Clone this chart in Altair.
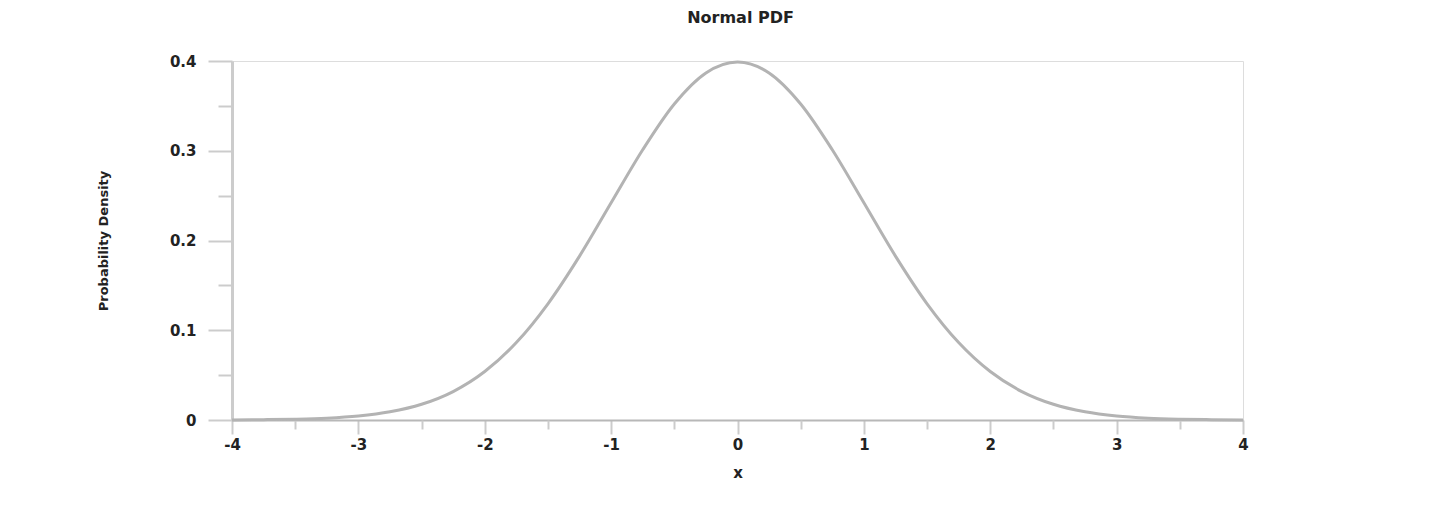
import altair as alt
import pandas as pd

# Values
x_vals = [-4.0, -3.75, -3.5, -3.25, -3.0, -2.75, -2.5, -2.25, -2.0, -1.75, -1.5, -1.25, -1.0,
          -0.75, -0.5, -0.25, 0.0, 0.25, 0.5, 0.75, 1.0, 1.25, 1.5, 1.75, 2.0, 2.25, 2.5,
          2.75, 3.0, 3.25, 3.5, 3.75, 4.0]
pdf_vals = [0.0001, 0.0004, 0.0009, 0.0020, 0.0044, 0.0091, 0.0175, 0.0317, 0.0540, 0.0863,
            0.1295, 0.1826, 0.2420, 0.3011, 0.3521, 0.3867, 0.3989, 0.3867, 0.3521, 0.3011,
            0.2420, 0.1826, 0.1295, 0.0863, 0.0540, 0.0317, 0.0175, 0.0091, 0.0044, 0.0020,
            0.0009, 0.0004, 0.0001]
x_ticks = [-4, -3, -2, -1, 0, 1, 2, 3, 4]
x_minor = [-3.5, -2.5, -1.5, -0.5, 0.5, 1.5, 2.5, 3.5]
y_ticks = [0, 0.1, 0.2, 0.3, 0.4]
y_minor = [0.05, 0.15, 0.25, 0.35]
title_text = ["Normal PDF"]

df = pd.DataFrame({"x": x_vals, "pdf": pdf_vals})

W, H = 1011, 359
FONT = "DejaVu Sans"
TXT = "#222222"
GRAY = "#cccccc"

xscale = alt.Scale(domain=[-4, 4], nice=False, zero=False)
yscale = alt.Scale(domain=[0, 0.4], nice=False)

main = alt.Chart(df).mark_line(color="#b3b3b3", strokeWidth=3, interpolate="monotone").encode(
    x=alt.X("x:Q", scale=xscale,
            axis=alt.Axis(values=x_ticks, title="x", labelFont=FONT, labelFontSize=15,
                          labelFontWeight="bold", labelColor=TXT, tickSize=14, tickWidth=2,
                          tickColor=GRAY, domainColor="#b8b8b8", domainWidth=2, labelPadding=3,
                          grid=False, titleFont=FONT, titleFontSize=15, titleFontWeight="bold",
                          titleColor=TXT, titleX=W / 2, titleY=52, titleBaseline="middle",
                          titleAlign="center", labelFlush=False,
                          labelExpr="replace(datum.label, '\u2212', '-')")),
    y=alt.Y("pdf:Q", scale=yscale,
            axis=alt.Axis(values=y_ticks, title="Probability Density", labelFont=FONT,
                          labelFontSize=15, labelFontWeight="bold", labelColor=TXT,
                          tickSize=24, tickWidth=2, tickColor=GRAY, domainColor=GRAY,
                          domainWidth=3, labelPadding=12, grid=False, titleFont=FONT,
                          titleFontSize=13, titleFontWeight="bold", titleColor=TXT,
                          titleX=-129, titleY=H / 2, titleBaseline="middle",
                          titleAlign="center", labelFlush=False,
                          format="~g")),
)

minor = alt.Chart(df).mark_line(opacity=0).encode(
    x=alt.X("x:Q", scale=xscale,
            axis=alt.Axis(values=x_minor, labels=False, title=None, tickSize=9, tickWidth=2,
                          tickColor=GRAY, domain=False, grid=False, orient="bottom")),
    y=alt.Y("pdf:Q", scale=yscale,
            axis=alt.Axis(values=y_minor, labels=False, title=None, tickSize=14, tickWidth=2,
                          tickColor=GRAY, domain=False, grid=False, orient="left")),
)

title = alt.Chart(pd.DataFrame({"t": title_text})).mark_text(
    font=FONT, fontSize=16, fontWeight="bold", color=TXT, align="center", baseline="middle"
).encode(text="t:N", x=alt.value(W / 2 + 3), y=alt.value(-43))

chart = alt.layer(main, minor, title).resolve_axis(x="independent", y="independent").properties(
    width=W, height=H,
    autosize=alt.AutoSizeParams(type="none"),
    padding={"left": 224, "top": 53, "right": 190, "bottom": 90},
).configure_view(stroke=GRAY, strokeWidth=3).configure(background="white")

chart.save("out.html", embed_options={"renderer": "svg", "actions": False})
